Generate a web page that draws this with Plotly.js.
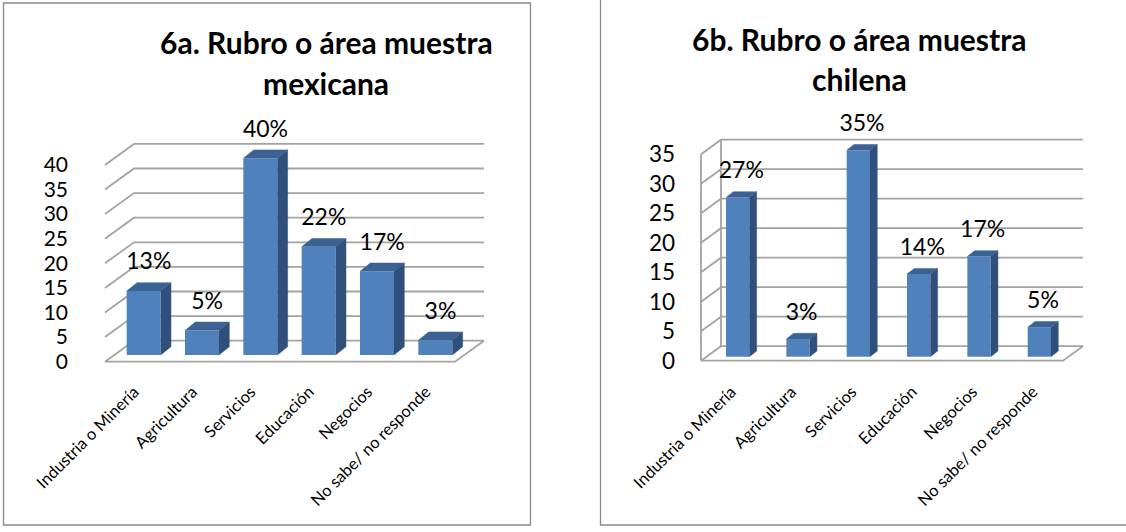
<!DOCTYPE html>
<html>
<head>
<meta charset="utf-8">
<script src="https://cdn.plot.ly/plotly-3.0.1.min.js"></script>
<style>
  html, body { margin: 0; padding: 0; background: #ffffff; }
  #chart { width: 1126px; height: 532px; }
</style>
</head>
<body>
<div id="chart"></div>
<script>
// ---------------- DATA ----------------
const categories = ["Industria o Minería", "Agricultura", "Servicios", "Educación", "Negocios", "No sabe/ no responde"];
const mexValues = [13, 5, 40, 22, 17, 3];
const mexLabels = ["13%", "5%", "40%", "22%", "17%", "3%"];
const chiValues = [27, 3, 35, 14, 17, 5];
const chiLabels = ["27%", "3%", "35%", "14%", "17%", "5%"];
const mexTicks = [0, 5, 10, 15, 20, 25, 30, 35, 40];
const chiTicks = [0, 5, 10, 15, 20, 25, 30, 35];
const mexTitle = ["6a. Rubro o área muestra", "mexicana"];
const chiTitle = ["6b. Rubro o área muestra", "chilena"];

// ---------------- GEOMETRY (pixels) ----------------
const W = 1126, H = 532;
const FONT = "Lato, Carlito, Calibri, sans-serif";
const FRONT = "#4f81bd", SIDE = "#30507b", TOP = "#3b6293", GRID = "#a3a3a3";

const geoA = {floorL:105, floorR:455, floorY:361.7, ppu:4.92, dx:29, dy:21,
  base:6.7, shift:9.5, bw:34, sdx:10.3, tdy:8.3, gap:19,
  left:100, right:500, top:125, bottom:368, wall:false, yStand:31, xStand:10, yFont:21,
  titleX:326, titleY:[42, 83]};
const geoB = {floorL:701, floorR:1063, floorY:360.7, ppu:5.9, dx:20, dy:14.5,
  base:4, shift:6.5, bw:23.3, sdx:7.3, tdy:5.7, gap:19,
  left:696, right:1100, top:115, bottom:368, wall:true, yStand:20, xStand:10, yFont:22.5,
  titleX:859, titleY:[39, 79]};

const traces = [];
const shapes = [];
const annotations = [];
const layout = {
  width: W, height: H,
  margin: {l:0, r:0, t:0, b:0},
  paper_bgcolor: "#ffffff", plot_bgcolor: "rgba(0,0,0,0)",
  showlegend: false,
  font: {family: FONT, color: "#000000"},
  shapes: shapes, annotations: annotations
};

function build(g, values, labels, ticks, title, n) {
  const xa = n === 1 ? "x" : "x" + n, ya = n === 1 ? "y" : "y" + n;
  const xk = n === 1 ? "xaxis" : "xaxis" + n, yk = n === 1 ? "yaxis" : "yaxis" + n;
  const slot = (g.floorR - g.floorL) / categories.length;
  const xu = px => (px - g.floorL) / slot - 0.5;
  const yu = py => (g.floorY - py) / g.ppu;
  const DX = g.dx / slot, DY = g.dy / g.ppu;
  const nCat = categories.length;
  const xMin = -0.5, xMax = nCat - 0.5;

  layout[xk] = {
    domain: [g.left / W, g.right / W], range: [xu(g.left), xu(g.right)],
    anchor: ya, showgrid: false, zeroline: false, showline: false,
    tickmode: "array", tickvals: categories.map((c, i) => i), ticktext: categories,
    tickangle: -45, ticks: "", ticklabelstandoff: g.xStand,
    tickfont: {family: FONT, size: 16.5, color: "#000"}, fixedrange: true
  };
  layout[yk] = {
    domain: [(H - g.bottom) / H, (H - g.top) / H], range: [yu(g.bottom), yu(g.top)],
    anchor: xa, showgrid: false, zeroline: false, showline: false,
    tickmode: "array", tickvals: ticks, ticktext: ticks.map(String),
    ticks: "", ticklabelstandoff: g.yStand,
    tickfont: {family: FONT, size: g.yFont, color: "#000"}, fixedrange: true
  };

  // grid / walls / floor, computed from tick values
  const maxT = ticks[ticks.length - 1];
  ticks.forEach(t => {
    shapes.push({type: "path", xref: xa, yref: ya, layer: "below",
      path: `M ${xMin},${t} L ${xMin + DX},${t + DY} L ${xMax + DX},${t + DY}`,
      line: {color: GRID, width: 1.8}});
  });
  shapes.push({type: "path", xref: xa, yref: ya, layer: "below",
    path: `M ${xMin},0 L ${xMax},0 L ${xMax + DX},${DY}`,
    line: {color: GRID, width: 1.8}});
  if (g.wall) {
    shapes.push({type: "path", xref: xa, yref: ya, layer: "below",
      path: `M ${xMin},0 L ${xMin},${maxT} M ${xMin + DX},${DY} L ${xMin + DX},${maxT + DY}`,
      line: {color: GRID, width: 1.8}});
  }

  // bars
  const bw = g.bw / slot, sh = g.shift / slot, b = g.base / g.ppu;
  const sdx = g.sdx / slot, tdy = g.tdy / g.ppu;
  const xc = categories.map((c, i) => i + sh);
  traces.push({type: "bar", x: xc, y: values, base: values.map(() => b), width: bw,
    xaxis: xa, yaxis: ya, marker: {color: FRONT, line: {width: 0}}, hoverinfo: "skip"});

  const sx = [], sy = [], tx = [], ty = [];
  values.forEach((v, i) => {
    const xl = xc[i] - bw / 2, xr = xc[i] + bw / 2;
    sx.push(xr, xr + sdx, xr + sdx, xr, null);
    sy.push(b, b + tdy, b + v + tdy, b + v, null);
    tx.push(xl, xl + sdx, xr + sdx, xr, null);
    ty.push(b + v, b + v + tdy, b + v + tdy, b + v, null);
  });
  traces.push({type: "scatter", mode: "lines", x: sx, y: sy, fill: "toself", fillcolor: SIDE,
    line: {width: 0.5, color: SIDE}, xaxis: xa, yaxis: ya, hoverinfo: "skip"});
  traces.push({type: "scatter", mode: "lines", x: tx, y: ty, fill: "toself", fillcolor: TOP,
    line: {width: 0.5, color: TOP}, xaxis: xa, yaxis: ya, hoverinfo: "skip"});

  // data labels
  traces.push({type: "scatter", mode: "text",
    x: xc.map(x => x + sdx / 2), y: values.map(v => b + v + tdy + g.gap / g.ppu),
    text: labels, textposition: "middle center",
    textfont: {family: FONT, size: 23, color: "#000"},
    xaxis: xa, yaxis: ya, hoverinfo: "skip", cliponaxis: false});

  // title (two lines)
  title.forEach((line, k) => {
    annotations.push({xref: "paper", yref: "paper", x: g.titleX / W, y: (H - g.titleY[k]) / H,
      xanchor: "center", yanchor: "middle", showarrow: false, text: "<b>" + line + "</b>",
      font: {family: FONT, size: 30, color: "#000"}});
  });
}

build(geoA, mexValues, mexLabels, mexTicks, mexTitle, 1);
build(geoB, chiValues, chiLabels, chiTicks, chiTitle, 2);

// chart frames
shapes.push({type: "rect", xref: "paper", yref: "paper", layer: "above",
  x0: 3.5 / W, x1: 530.5 / W, y0: (H - 525) / H, y1: (H - 3) / H,
  line: {color: "#8a8a8a", width: 1.3}});
shapes.push({type: "rect", xref: "paper", yref: "paper", layer: "above",
  x0: 600.5 / W, x1: 1140 / W, y0: (H - 525) / H, y1: (H + 10) / H,
  line: {color: "#8a8a8a", width: 1.3}});

Plotly.newPlot("chart", traces, layout, {staticPlot: true, displayModeBar: false});
</script>
</body>
</html>
